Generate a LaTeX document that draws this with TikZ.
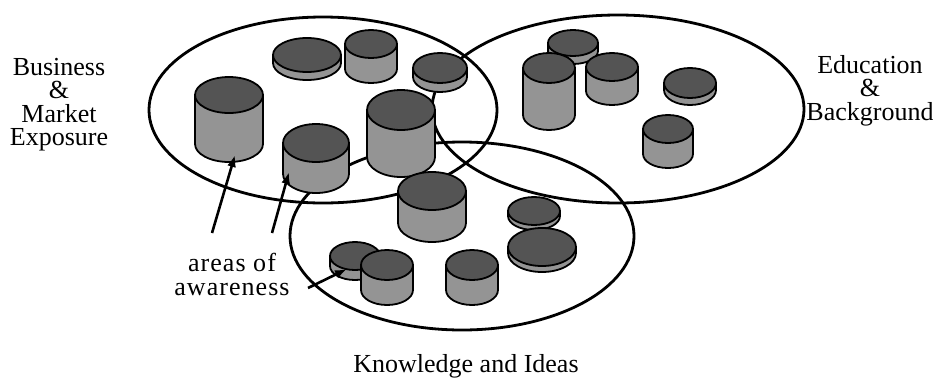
\documentclass[tikz,border=0pt]{standalone}
\usepackage{fontspec}
\setmainfont{Liberation Serif}
\usetikzlibrary{arrows.meta}

\definecolor{drumdark}{gray}{0.33}
\definecolor{drumgray}{gray}{0.58}

\tikzset{
  ring/.style={line width=2.8pt},
  drumline/.style={line width=1.8pt},
  drumside/.style={drumline, fill=drumgray},
  drumtop/.style={drumline, fill=drumdark},
  pointer/.style={line width=2.6pt, -{Latex[length=12pt,width=9pt]}},
  areatext/.style={inner sep=0pt, align=center, font=\fontsize{26}{23.5}\selectfont}
}

% drum: x, top y, x radius, y radius, height
\newcommand{\drum}[5]{%
  \filldraw[drumside] (#1,{#2+#5}) ellipse (#3pt and #4pt);
  \fill[drumgray] ({#1-#3},#2) rectangle ({#1+#3},{#2+#5});
  \draw[drumline] ({#1-#3},#2) -- ({#1-#3},{#2+#5});
  \draw[drumline] ({#1+#3},#2) -- ({#1+#3},{#2+#5});
  \filldraw[drumtop] (#1,#2) ellipse (#3pt and #4pt);
}

\begin{document}
\begin{tikzpicture}[x=1pt, y=-1pt]
        \useasboundingbox (0,0) rectangle (933,381);

        % Areas
        \draw[ring] (323,110) ellipse (174pt and 93pt);
        \draw[ring] (618,109) ellipse (186pt and 94pt);
        \draw[ring] (462,236) ellipse (172pt and 94pt);

        % Drums, business
        \drum{371}{44}{26}{14}{25}
        \drum{307}{55}{34}{17}{8}
        \drum{440}{68}{27}{15}{9}
        \drum{229}{95}{34}{18}{49}
        \drum{401}{110}{34}{20}{47}
        \drum{316}{143}{33}{19}{31}

        % Drums, education
        \drum{573}{43}{25}{13}{8}
        \drum{549}{68}{26}{15}{47}
        \drum{612}{67}{26}{14}{24}
        \drum{690}{83}{26}{15}{7}
        \drum{668}{129}{25}{14}{25}

        % Drums, knowledge
        \drum{432}{191}{34}{19}{32}
        \drum{534}{211}{26}{14}{5}
        \drum{542}{247}{34}{19}{6}
        \drum{355}{256}{25}{14}{10}
        \drum{387}{265}{26}{15}{25}
        \drum{472}{265}{26}{15}{25}

        % Labels
        \node[areatext, anchor=north] (business) at (59,58) {Business\\\&\\Market\\Exposure};
        \node[areatext, anchor=north] (education) at (870,55) {Education\\\&\\Background};
        \node[areatext, anchor=base] (knowledge) at (466,372) {Knowledge and Ideas};
        \node[areatext, anchor=north] (awareness) at (232,253) {\addfontfeature{LetterSpace=4}areas of\\\addfontfeature{LetterSpace=4}awareness};

        % Pointers
        \coordinate (startA) at (212,233);
        \coordinate (tipA) at (235,155);
        \coordinate (startB) at (272,233);
        \coordinate (tipB) at (289,172);
        \coordinate (startC) at (308,288);
        \coordinate (tipC) at (347,269);
        \draw[pointer] (startA) -- (tipA);
        \draw[pointer] (startB) -- (tipB);
        \draw[pointer] (startC) -- (tipC);
\end{tikzpicture}
\end{document}
